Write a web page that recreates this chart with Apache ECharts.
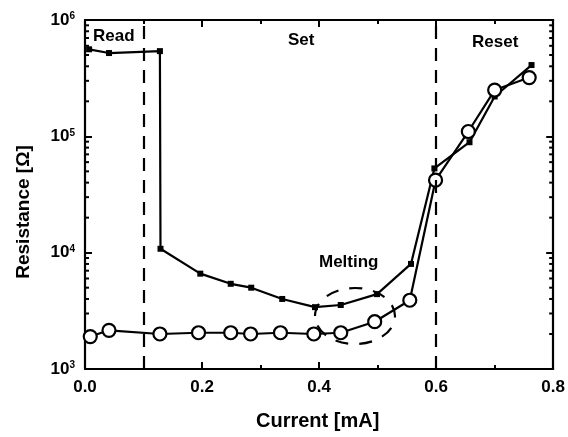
<!DOCTYPE html>
<html>
<head>
<meta charset="utf-8">
<script src="https://cdn.jsdelivr.net/npm/echarts@6/dist/echarts.min.js"></script>
<style>html,body{margin:0;padding:0;background:#fff}#c{width:568px;height:437px}</style>
</head>
<body>
<div id="c"></div>
<script>
// Data
var filledSeries = [
  [0.007, 5.6e5], [0.041, 5.2e5], [0.128, 5.4e5], [0.129, 1.08e4], [0.197, 6.6e3],
  [0.249, 5.4e3], [0.284, 5.0e3], [0.337, 4.0e3], [0.393, 3.4e3], [0.437, 3.55e3],
  [0.499, 4.4e3], [0.557, 8.0e3], [0.597, 5.3e4], [0.657, 8.9e4], [0.700, 2.2e5],
  [0.763, 4.1e5]
];
var openSeries = [
  [0.009, 1.9e3], [0.041, 2.15e3], [0.128, 2.0e3], [0.194, 2.05e3], [0.249, 2.05e3],
  [0.283, 2.0e3], [0.334, 2.05e3], [0.391, 2.0e3], [0.437, 2.05e3], [0.495, 2.55e3],
  [0.555, 3.9e3], [0.599, 4.2e4], [0.655, 1.1e5], [0.700, 2.5e5], [0.759, 3.2e5]
];
var phaseBoundaries = [0.1, 0.6];
var xTickLabels = ['0.0', '0.2', '0.4', '0.6', '0.8'];
var decades = [1e3, 1e4, 1e5];
var minorMultipliers = [2, 3, 4, 5, 6, 7, 8, 9];

var FONT = 'Liberation Sans, Arial, sans-serif';
var minorTickValues = [];
decades.forEach(function (d) { minorMultipliers.forEach(function (m) { minorTickValues.push([0, d * m]); }); });

var chart = echarts.init(document.getElementById('c'));
var xCommon = {
  type: 'value', min: 0, max: 0.8, interval: 0.2,
  axisLine: { show: true, onZero: false, lineStyle: { color: '#000', width: 2.2 } },
  axisTick: { show: true, inside: true, length: 7, lineStyle: { color: '#000', width: 2 } },
  minorTick: { show: true, splitNumber: 2, length: 4, lineStyle: { color: '#000', width: 2 } },
  splitLine: { show: false }
};
var yCommon = {
  type: 'log', logBase: 10, min: 1e3, max: 1e6,
  axisLine: { show: true, onZero: false, lineStyle: { color: '#000', width: 2.2 } },
  axisTick: { show: true, inside: true, length: 7, lineStyle: { color: '#000', width: 2 } },
  splitLine: { show: false }
};
chart.setOption({
  animation: false,
  backgroundColor: '#fff',
  grid: { left: 85, right: 14, top: 20, bottom: 68 },
  xAxis: [
    Object.assign({}, xCommon, {
      position: 'bottom',
      axisLabel: {
        margin: 10, color: '#000', fontSize: 17, fontWeight: 'bold', fontFamily: FONT,
        formatter: function (v) { return xTickLabels[Math.round(v / 0.2)]; }
      }
    }),
    Object.assign({}, xCommon, { position: 'top', axisLabel: { show: false } })
  ],
  yAxis: [
    Object.assign({}, yCommon, {
      position: 'left',
      axisLabel: {
        margin: 10, color: '#000',
        formatter: function (v) { return '{b|10}{s|' + Math.round(Math.log10(v)) + '}'; },
        rich: {
          b: { fontSize: 17, fontWeight: 'bold', fontFamily: FONT, color: '#000' },
          s: { fontSize: 10, fontWeight: 'bold', fontFamily: FONT, color: '#000', verticalAlign: 'top', lineHeight: 10 }
        }
      }
    }),
    Object.assign({}, yCommon, { position: 'right', axisLabel: { show: false } })
  ],
  graphic: [
    { type: 'text', left: 93, top: 28, style: { text: 'Read', font: 'bold 17px ' + FONT, fill: '#000' } },
    { type: 'text', left: 288, top: 32, style: { text: 'Set', font: 'bold 17px ' + FONT, fill: '#000' } },
    { type: 'text', left: 472, top: 34, style: { text: 'Reset', font: 'bold 17px ' + FONT, fill: '#000' } },
    { type: 'text', left: 319, top: 254, style: { text: 'Melting', font: 'bold 17px ' + FONT, fill: '#000' } },
    { type: 'text', left: 256, top: 411, style: { text: 'Current [mA]', font: 'bold 20px ' + FONT, fill: '#000' } },
    { type: 'text', x: 14, y: 212, rotation: Math.PI / 2, style: { text: 'Resistance [\u03A9]', font: 'bold 19px ' + FONT, fill: '#000', textAlign: 'center', textVerticalAlign: 'top' } },
    { type: 'ellipse', shape: { cx: 355, cy: 316, rx: 40, ry: 28 }, style: { fill: 'none', stroke: '#000', lineWidth: 2.2, lineDash: [13, 11] }, z: 10 }
  ],
  series: [
    {
      type: 'custom', xAxisIndex: 0, yAxisIndex: 0, data: minorTickValues, silent: true, z: 1,
      renderItem: function (params, api) {
        var p = api.coord([0, api.value(1)]);
        var cs = params.coordSys;
        return { type: 'group', children: [
          { type: 'line', shape: { x1: cs.x, y1: p[1], x2: cs.x + 4, y2: p[1] }, style: { stroke: '#000', lineWidth: 2 } },
          { type: 'line', shape: { x1: cs.x + cs.width - 4, y1: p[1], x2: cs.x + cs.width, y2: p[1] }, style: { stroke: '#000', lineWidth: 2 } }
        ] };
      }
    },
    {
      type: 'line', data: filledSeries, symbol: 'rect', symbolSize: 6, showSymbol: true,
      lineStyle: { color: '#000', width: 2.2 }, itemStyle: { color: '#000' }, z: 3,
      markLine: {
        silent: true, symbol: ['none', 'none'], label: { show: false },
        lineStyle: { color: '#000', width: 2.2, type: [13, 9] },
        data: phaseBoundaries.map(function (v) { return { xAxis: v }; })
      }
    },
    {
      type: 'line', data: openSeries, symbol: 'circle', symbolSize: 13, showSymbol: true,
      lineStyle: { color: '#000', width: 2.2 },
      itemStyle: { color: '#fff', borderColor: '#000', borderWidth: 2.2 }, z: 4
    }
  ]
});
</script>
</body>
</html>
